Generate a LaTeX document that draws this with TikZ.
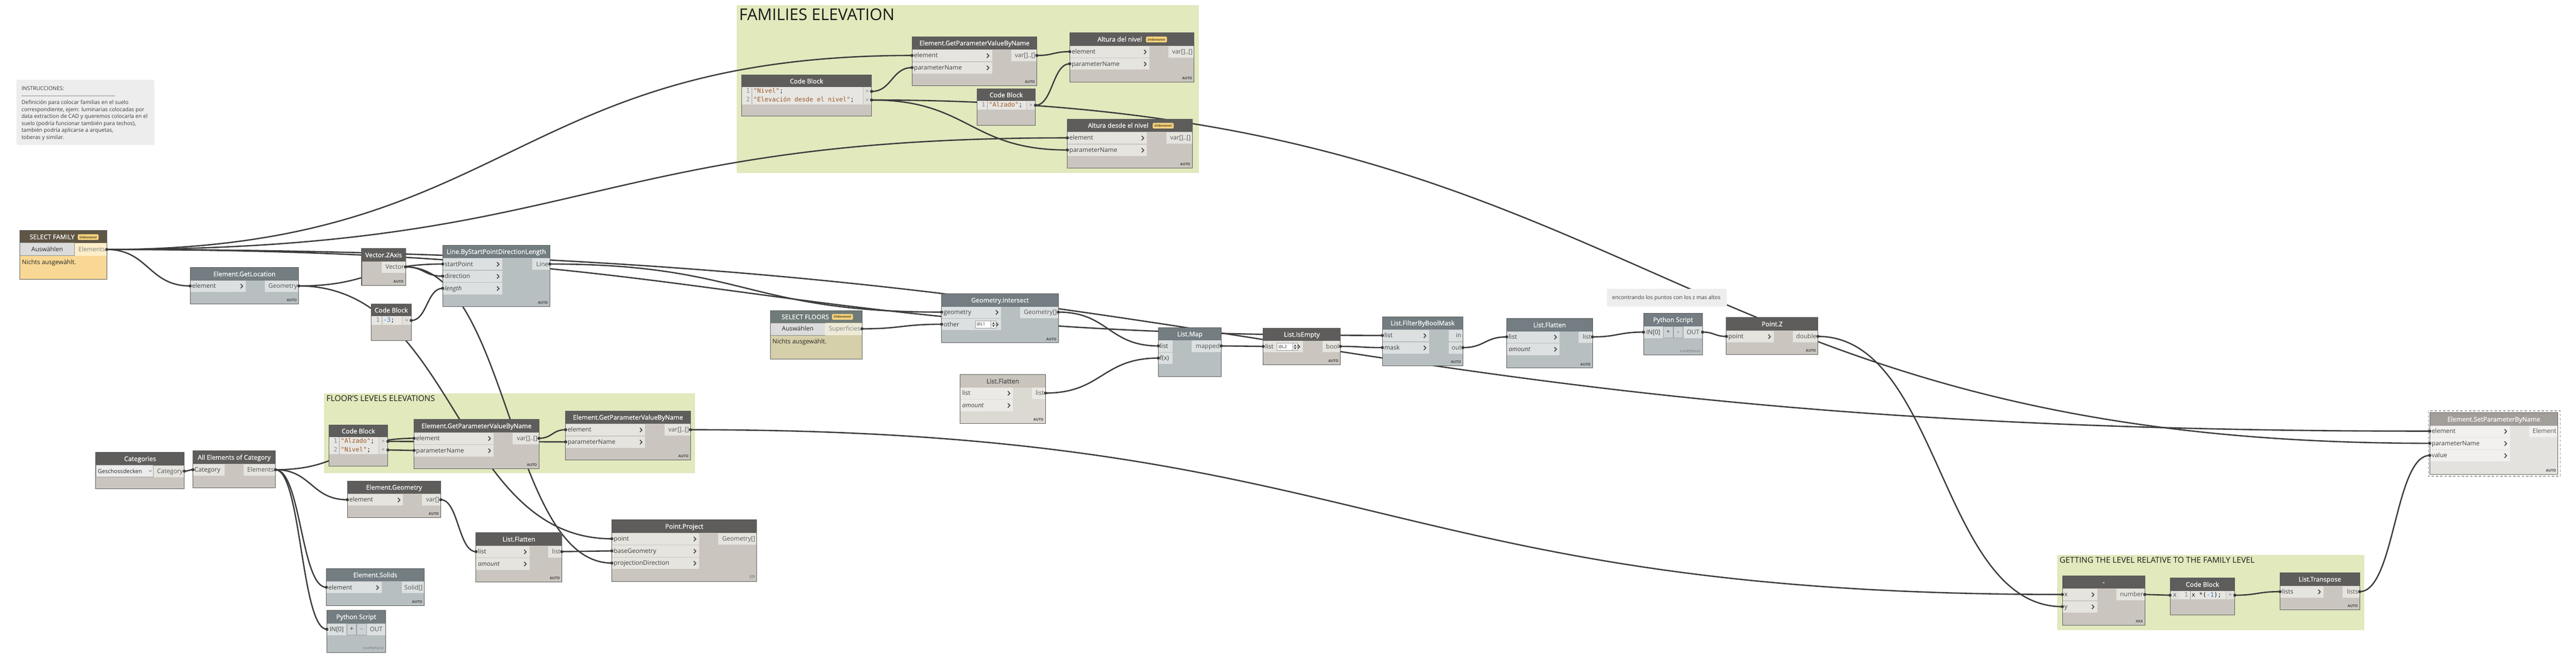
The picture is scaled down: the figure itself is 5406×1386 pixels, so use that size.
\documentclass[tikz,border=0pt]{standalone}
\usepackage{fontspec}
\setmainfont{Open Sans}
\setmonofont{DejaVu Sans Mono}
\newfontfamily\hdrfont{Open Sans}[FakeBold=0.6]
\usetikzlibrary{calc}
\definecolor{grp}{HTML}{E1E9BD}
\definecolor{wirec}{HTML}{3C3C3C}
\definecolor{frm}{HTML}{5A5A5A}
\definecolor{headB}{HTML}{5E5D5B}\definecolor{bodyB}{HTML}{CAC6BF}\definecolor{rowB}{HTML}{E6E4DF}\definecolor{orowB}{HTML}{E6E4DF}\definecolor{htxB}{HTML}{FFFFFF}
\definecolor{headG}{HTML}{737D82}\definecolor{bodyG}{HTML}{B7BFC1}\definecolor{rowG}{HTML}{DCE0E0}\definecolor{orowG}{HTML}{DCE0E0}\definecolor{htxG}{HTML}{FFFFFF}
\definecolor{headL}{HTML}{C9C5BD}\definecolor{bodyL}{HTML}{DCD9D2}\definecolor{rowL}{HTML}{ECEAE6}\definecolor{orowL}{HTML}{ECEAE6}\definecolor{htxL}{HTML}{4A4A4A}
\definecolor{headS}{HTML}{A29E9A}\definecolor{bodyS}{HTML}{E4E2DE}\definecolor{rowS}{HTML}{F1F0EE}\definecolor{orowS}{HTML}{F1F0EE}\definecolor{htxS}{HTML}{FFFFFF}
\definecolor{ptxt}{HTML}{3F3F3F}\definecolor{otxt}{HTML}{555555}\definecolor{lacec}{HTML}{454545}\definecolor{chevc}{HTML}{4A4A4A}
\definecolor{sfhead}{HTML}{5E5545}\definecolor{sfbody}{HTML}{F9D895}\definecolor{sfout}{HTML}{FDEEC8}
\definecolor{sflhead}{HTML}{6F7B78}\definecolor{sflbody}{HTML}{D5CFAA}\definecolor{sflout}{HTML}{EEEAD8}
\definecolor{sfotx}{HTML}{808080}\definecolor{btnc}{HTML}{DCDCDC}\definecolor{btnl}{HTML}{8C8C8C}
\definecolor{badgec}{HTML}{F6D37F}\definecolor{badgetx}{HTML}{5B4A1F}
\definecolor{codebg}{HTML}{E8E6E2}\definecolor{codeout}{HTML}{E2E0DB}\definecolor{codesep}{HTML}{C4C1BA}
\definecolor{cstr}{HTML}{9A5A28}\definecolor{cnum}{HTML}{2F7FD0}\definecolor{codetxt}{HTML}{222222}\definecolor{lnumc}{HTML}{8A8A8A}
\definecolor{cmtbg}{HTML}{EDEDED}\definecolor{cmtx}{HTML}{3A3A3A}
\definecolor{spinc}{HTML}{9A9A9A}\definecolor{pybtn}{HTML}{CDD3D4}\definecolor{pybtnl}{HTML}{9AA3A5}
\definecolor{ddc}{HTML}{ECECEC}\definecolor{ddl}{HTML}{A0A0A0}\definecolor{dashc}{HTML}{9A9A9A}
\tikzset{
  wire/.style={draw=wirec, line width=2.8},
  frame/.style={draw=frm, line width=1.1},
  htext/.style={inner sep=0, font=\hdrfont\fontsize{13.5}{15}\selectfont, text height=12, text depth=2.4},
  ptext/.style={inner sep=0, font=\fontsize{13}{15}\selectfont, text=ptxt, text height=11, text depth=3},
  ctext/.style={inner sep=0, font=\ttfamily\fontsize{13}{15}\selectfont, text=codetxt, text height=10, text depth=3},
  lace/.style={inner sep=0, font=\bfseries\fontsize{7.5}{8}\selectfont, text=lacec, anchor=south east},
  chevst/.style={draw=chevc, line width=1.9},
  gtitle/.style={inner sep=0, font=\fontsize{17}{17}\selectfont, text=black!90, anchor=base west},
  cmt/.style={inner sep=0, font=\fontsize{11.3}{14}\selectfont, text=cmtx, anchor=base west},
  badgest/.style={fill=badgec, rounded corners=2, minimum width=44, minimum height=12, inner sep=0, font=\bfseries\itshape\fontsize{7}{7}\selectfont, text=badgetx},
}
\newcommand\dnode[6]{%
  \fill[body#5] (#1,#2) rectangle ++(#3,#4);
  \fill[head#5] (#1,#2) rectangle ++(#3,27);
  \node[htext, text=htx#5] at ({#1+#3/2},{#2+13.5}) {#6};}
\newcommand\dframe[4]{\draw[frame] (#1,#2) rectangle ++(#3,#4);}
\newcommand\dchev[2]{\draw[chevst] ({#1-2},{#2-4.5}) -- ++(4.2,4.5) -- ++(-4.2,4.5);}
\newcommand\inrow[5]{%
  \fill[row#5] (#1,{#2+1}) rectangle ++(#3,24);
  \node[ptext, anchor=west] at ({#1+4},{#2+13}) {#4};
  \dchev{#1+#3-9}{#2+13}}
\newcommand\inrownc[5]{%
  \fill[row#5] (#1,{#2+1}) rectangle ++(#3,24);
  \node[ptext, anchor=west] at ({#1+3},{#2+13}) {#4};}
\newcommand\outrow[5]{%
  \fill[orow#5] ({#1-#3},{#2+1}) rectangle (#1,{#2+25});
  \node[ptext, text=otxt, anchor=east] at ({#1-3},{#2+13}) {#4};}
\newcommand\lacing[3]{\node[lace] at ({#1-4},{#2-5}) {#3};}
\newcommand\coderow[6]{%
  \fill[codebg] (#1,#2) rectangle (#3,{#2+18});
  \fill[codeout] (#3,#2) rectangle (#4,{#2+18});
  \draw[codesep] (#3,#2) -- (#3,{#2+18});
  \draw[lnumc, densely dotted] ({#1+22},#2) -- ({#1+22},{#2+18});
  \node[ctext, text=lnumc] at ({#1+14},{#2+9}) {#5};
  \node[ctext, anchor=west] at ({#1+25},{#2+9}) {#6};
  \node[inner sep=0, text=otxt, font=\fontsize{10}{10}\selectfont] at ({(#3+#4)/2},{#2+9}) {>};}
\newcommand\spinner[3]{%
  \filldraw[fill=white, draw=spinc, line width=0.8] (#1,#2) rectangle ++(43,15);
  \node[inner sep=0, anchor=west, font=\fontsize{9}{9}\selectfont, text=black!80] at ({#1+2.5},{#2+7.5}) {#3};
  \draw[spinc, line width=0.8] ({#1+33},#2) -- ++(0,15) ({#1+33},{#2+7.5}) -- ++(10,0);
  \fill[black!75] ({#1+35.5},{#2+6}) -- ++(5,0) -- ++(-2.5,-3.8) -- cycle;
  \fill[black!75] ({#1+35.5},{#2+9}) -- ++(5,0) -- ++(-2.5,3.8) -- cycle;}
\newcommand\pyrow[3]{%
  \fill[rowG] (#1,{#2+1}) rectangle ++(41,24);
  \filldraw[fill=pybtn, draw=pybtnl, line width=0.8] ({#1+42},{#2+1}) rectangle ++(20,24);
  \filldraw[fill=pybtn, draw=pybtnl, line width=0.8] ({#1+63},{#2+1}) rectangle ++(20,24);
  \fill[rowG] ({#1+84},{#2+1}) rectangle ({#1+#3},{#2+25});
  \node[ptext] at ({#1+20.5},{#2+13}) {IN[0]};
  \node[ptext] at ({#1+52},{#2+12}) {+};
  \node[ptext] at ({#1+73},{#2+12}) {-};
  \node[ptext, text=otxt] at ({#1+(84+#3)/2},{#2+13}) {OUT};}
\newcommand\wire[3]{\draw[wire] (#1) .. controls ($(#1)+(#3,0)$) and ($(#2)-(#3,0)$) .. (#2);}
\newcommand\dashes{-{}-{}-{}-{}-{}-{}-{}-{}-{}-{}}
\begin{document}
\begin{tikzpicture}[x=1pt,y=-1pt]
\useasboundingbox (0,0) rectangle (5406,1386);
\fill[white] (0,0) rectangle (5406,1386);
% ---------- ports ----------
\coordinate (sf-out) at (224,524);
\coordinate (gloc-in) at (399,600.5); \coordinate (gloc-out) at (627,600.5);
\coordinate (vz-out) at (851,560.5);
\coordinate (line-in1) at (929,554.5); \coordinate (line-in2) at (929,580); \coordinate (line-in3) at (929,605.5); \coordinate (line-out) at (1154,554.5);
\coordinate (cb3-out) at (863,673);
\coordinate (sfl-out) at (1809,690.5);
\coordinate (gint-in1) at (1976,655.5); \coordinate (gint-in2) at (1976,681); \coordinate (gint-out) at (2221,655.5);
\coordinate (lmap-in1) at (2431,726.5); \coordinate (lmap-in2) at (2431,752); \coordinate (lmap-out) at (2563,726.5);
\coordinate (lfl1-out) at (2194,825.5);
\coordinate (lie-in) at (2651,727.5); \coordinate (lie-out) at (2813,727.5);
\coordinate (fbm-in1) at (2901,704.5); \coordinate (fbm-in2) at (2901,730); \coordinate (fbm-out) at (3070,730);
\coordinate (lfl2-in) at (3162,707.5); \coordinate (lfl2-out) at (3342,707.5);
\coordinate (py1-in) at (3449,697.5); \coordinate (py1-out) at (3573,697.5);
\coordinate (pz-in) at (3623,706.5); \coordinate (pz-out) at (3815,706.5);
\coordinate (egt-in1) at (1914,116.5); \coordinate (egt-in2) at (1914,142); \coordinate (egt-out) at (2176,116.5);
\coordinate (adn-in1) at (2245,108.5); \coordinate (adn-in2) at (2245,134);
\coordinate (cb1-out1) at (1829,192); \coordinate (cb1-out2) at (1829,210);
\coordinate (cba-out) at (2173,221);
\coordinate (adl-in1) at (2240,289.5); \coordinate (adl-in2) at (2240,315);
\coordinate (cb2-out1) at (814,927); \coordinate (cb2-out2) at (814,945);
\coordinate (eg1-in1) at (869,920.5); \coordinate (eg1-in2) at (869,946); \coordinate (eg1-out) at (1131,920.5);
\coordinate (eg2-in1) at (1187,902.5); \coordinate (eg2-in2) at (1187,928); \coordinate (eg2-out) at (1449,902.5);
\coordinate (cat-out) at (387,989.5);
\coordinate (aec-in) at (405,986.5); \coordinate (aec-out) at (578,986.5);
\coordinate (egeo-in) at (729,1049.5); \coordinate (egeo-out) at (925,1049.5);
\coordinate (lfl3-in) at (999,1158.5); \coordinate (lfl3-out) at (1179,1158.5);
\coordinate (pp-in1) at (1284,1131.5); \coordinate (pp-in2) at (1284,1157); \coordinate (pp-in3) at (1284,1182.5);
\coordinate (esol-in) at (685,1233.5);
\coordinate (py2-in) at (686,1321.5);
\coordinate (minus-in1) at (4328,1248.5); \coordinate (minus-in2) at (4328,1274); \coordinate (minus-out) at (4501,1248.5);
\coordinate (cbm-in) at (4554,1250); \coordinate (cbm-out) at (4690,1250);
\coordinate (ltr-in) at (4785,1242.5); \coordinate (ltr-out) at (4952,1242.5);
\coordinate (sp-in1) at (5099,905.5); \coordinate (sp-in2) at (5099,931); \coordinate (sp-in3) at (5099,956.5);
% ---------- groups ----------
\fill[grp] (1546,11) rectangle (2516,363);
\node[gtitle, font=\fontsize{34}{34}\selectfont] (g1t) at (1551,43) {FAMILIES ELEVATION};
\fill[grp] (680,826) rectangle (1459,994);
\node[gtitle] (g2t) at (685,843) {FLOOR'S LEVELS ELEVATIONS};
\fill[grp] (4317,1166) rectangle (4962,1323);
\node[gtitle] (g3t) at (4322,1182) {GETTING THE LEVEL RELATIVE TO THE FAMILY LEVEL};
% ---------- comments ----------
\fill[black!6] (37,170) rectangle (324,305);
\fill[cmtbg] (35,168) rectangle (322,303);
\node[cmt] (c1) at (45,190) {INSTRUCCIONES:};
\node[cmt] (c2) at (45,204.5) {\dashes\dashes\dashes\dashes\dashes-{}-{}-{}-{}};
\node[cmt] (c3) at (45,219) {Definición para colocar familias en el suelo};
\node[cmt] (c4) at (45,233.6) {correspondiente, ejem: luminarias colocadas por};
\node[cmt] (c5) at (45,248.2) {data extraction de CAD y queremos colocarla en el};
\node[cmt] (c6) at (45,262.8) {suelo (podría funcionar también para techos),};
\node[cmt] (c7) at (45,277.4) {también podría aplicarse a arquetas,};
\node[cmt] (c8) at (45,292) {toberas y similar.};
% ---------- wires ----------
\wire{sf-out}{egt-in1}{845}
\wire{sf-out}{adl-in1}{1008}
\wire{sf-out}{gloc-in}{87.5}
\wire{sf-out}{sp-in1}{2437.5}
\wire{sf-out}{fbm-in1}{1338.5}
\wire{cb1-out1}{egt-in2}{42.5}
\wire{egt-out}{adn-in1}{34.5}
\wire{cba-out}{adn-in2}{36}
\wire{cb1-out2}{adl-in2}{205.5}
\wire{cb1-out2}{sp-in2}{1635}
\wire{gloc-out}{line-in1}{151}
\wire{vz-out}{line-in2}{39}
\wire{cb3-out}{line-in3}{33}
\wire{gloc-out}{pp-in1}{328.5}
\wire{vz-out}{pp-in3}{216.5}
\wire{line-out}{gint-in1}{411}
\wire{sfl-out}{gint-in2}{83.5}
\wire{gint-out}{lmap-in1}{105}
\wire{lfl1-out}{lmap-in2}{118.5}
\wire{lmap-out}{lie-in}{44}
\wire{lie-out}{fbm-in2}{44}
\wire{fbm-out}{lfl2-in}{46}
\wire{lfl2-out}{py1-in}{53.5}
\wire{py1-out}{pz-in}{25}
\wire{pz-out}{minus-in2}{256.5}
\wire{eg2-out}{minus-in1}{1439.5}
\wire{minus-out}{cbm-in}{26.5}
\wire{cbm-out}{ltr-in}{47.5}
\wire{ltr-out}{sp-in3}{73.5}
\wire{aec-out}{eg1-in1}{145.5}
\wire{cb2-out2}{eg1-in2}{27.5}
\wire{cb2-out1}{eg2-in2}{186.5}
\wire{eg1-out}{eg2-in1}{28}
\wire{cat-out}{aec-in}{9}
\wire{aec-out}{egeo-in}{75.5}
\wire{aec-out}{esol-in}{53.5}
\wire{aec-out}{py2-in}{54}
\wire{egeo-out}{lfl3-in}{37}
\wire{lfl3-out}{pp-in2}{52.5}
% second comment drawn over the wire that passes behind it
\fill[black!6] (3374,609) rectangle (3624,644);
\fill[cmtbg] (3372,607) rectangle (3622,642);
\node[cmt] (c9) at (3383,628.5) {encontrando los puntos con los z mas altos};
% ---------- SELECT FAMILY ----------
\fill[sfbody] (42,484) rectangle (224,587);
\fill[sfhead] (42,484) rectangle (224,510);
\node[htext, text=white, anchor=west] (sf) at (62,497.5) {SELECT FAMILY};
\node[badgest] at (185,498) {Unbenannt};
\filldraw[fill=btnc, draw=btnl, line width=1] (42,510) rectangle (156,537);
\node[ptext, text=black!85] at (99,524) {Auswählen};
\fill[sfout] (156.5,510.5) rectangle (224,537);
\node[ptext, text=sfotx, anchor=east] at (221,524) {Elements};
\node[ptext, text=black!85, anchor=west] at (46,551) {Nichts ausgewählt.};
\dframe{42}{484}{182}{103}
% ---------- Element.GetLocation ----------
\dnode{399}{562}{228}{76}{G}{Element.GetLocation}
\inrow{399}{588}{117}{element}{G}
\outrow{627}{588}{71}{Geometry}{G}
\lacing{627}{638}{AUTO}
\dframe{399}{562}{228}{76}
% ---------- Vector.ZAxis ----------
\dnode{759}{522}{92}{77}{B}{Vector.ZAxis}
\outrow{851}{548}{50}{Vector}{B}
\lacing{851}{599}{AUTO}
\dframe{759}{522}{92}{77}
% ---------- Line ----------
\dnode{929}{515}{225}{129}{G}{Line.ByStartPointDirectionLength}
\inrow{929}{542}{125}{startPoint}{G}
\inrow{929}{567.5}{125}{direction}{G}
\inrow{929}{593}{125}{\textit{length}}{G}
\outrow{1154}{542}{37}{Line}{G}
\lacing{1154}{644}{AUTO}
\dframe{929}{515}{225}{129}
% ---------- Code Block -3 ----------
\dnode{779}{638}{84}{77}{B}{Code Block}
\coderow{779}{664}{844}{863}{1}{\textcolor{cnum}{-3};}
\dframe{779}{638}{84}{77}
% ---------- SELECT FLOORS ----------
\fill[sflbody] (1617,652) rectangle (1809,754);
\fill[sflhead] (1617,652) rectangle (1809,678);
\node[htext, text=white, anchor=west] (sfl) at (1640,665.5) {SELECT FLOORS};
\node[badgest] at (1768,665.5) {Unbenannt};
\filldraw[fill=btnc, draw=btnl, line width=1] (1617,678) rectangle (1731,704);
\node[ptext, text=black!85] at (1674,691) {Auswählen};
\fill[sflout] (1731.5,678.5) rectangle (1809,704);
\node[ptext, text=sfotx, anchor=east] at (1806,691) {Superficies};
\node[ptext, text=black!85, anchor=west] at (1621,718) {Nichts ausgewählt.};
\dframe{1617}{652}{192}{102}
% ---------- Geometry.Intersect ----------
\dnode{1976}{617}{245}{103}{G}{Geometry.Intersect}
\inrow{1976}{643}{125}{geometry}{G}
\inrow{1976}{668.5}{125}{other}{G}
\spinner{2047}{674}{@L1}
\outrow{2221}{643}{80}{Geometry[]}{G}
\lacing{2221}{720}{AUTO}
\dframe{1976}{617}{245}{103}
% ---------- List.Map ----------
\dnode{2431}{688}{132}{103}{G}{List.Map}
\inrownc{2431}{714}{30}{list}{G}
\inrownc{2431}{739.5}{30}{f(x)}{G}
\outrow{2563}{714}{62}{mapped}{G}
\dframe{2431}{688}{132}{103}
% ---------- List.Flatten (light) ----------
\dnode{2015}{787}{179}{102}{L}{List.Flatten}
\inrow{2015}{813}{111}{list}{L}
\inrow{2015}{838.5}{111}{\textit{amount}}{L}
\outrow{2194}{813}{28}{list}{L}
\lacing{2194}{889}{AUTO}
\dframe{2015}{787}{179}{102}
% ---------- List.IsEmpty ----------
\dnode{2651}{689}{162}{77}{B}{List.IsEmpty}
\inrow{2651}{715}{83}{list}{B}
\spinner{2680}{721}{@L2}
\outrow{2813}{715}{38}{bool}{B}
\lacing{2813}{766}{AUTO}
\dframe{2651}{689}{162}{77}
% ---------- FilterByBoolMask ----------
\dnode{2901}{665}{169}{103}{G}{List.FilterByBoolMask}
\inrow{2901}{692}{98}{list}{G}
\inrow{2901}{717.5}{98}{mask}{G}
\outrow{3070}{692}{30}{in}{G}
\outrow{3070}{717.5}{30}{out}{G}
\lacing{3070}{768}{AUTO}
\dframe{2901}{665}{169}{103}
% ---------- List.Flatten (right) ----------
\dnode{3162}{669}{180}{104}{G}{List.Flatten}
\inrow{3162}{695}{111}{list}{G}
\inrow{3162}{720.5}{111}{\textit{amount}}{G}
\outrow{3342}{695}{29}{list}{G}
\lacing{3342}{773}{AUTO}
\dframe{3162}{669}{180}{104}
% ---------- Python Script (top) ----------
\dnode{3449}{658}{124}{88}{G}{Python Script}
\pyrow{3449}{685}{124}
\node[inner sep=0, anchor=south east, font=\fontsize{7.5}{8}\selectfont, text=black!55] at (3569,742) {IronPython2};
\dframe{3449}{658}{124}{88}
% ---------- Point.Z ----------
\dnode{3623}{667}{192}{77}{B}{Point.Z}
\inrow{3623}{694}{99}{point}{B}
\outrow{3815}{694}{53}{double}{B}
\lacing{3815}{744}{AUTO}
\dframe{3623}{667}{192}{77}
% ---------- Families group nodes ----------
\dnode{1914}{77}{262}{103}{B}{Element.GetParameterValueByName}
\inrow{1914}{104}{168}{element}{B}
\inrow{1914}{129.5}{168}{parameterName}{B}
\outrow{2176}{104}{54}{var[]..[]}{B}
\lacing{2176}{180}{AUTO}
\dframe{1914}{77}{262}{103}
\dnode{2245}{69}{261}{103}{B}{}
\node[htext, text=white, anchor=west] (adn) at (2303,82.5) {Altura del nivel};
\node[badgest] at (2427,83) {Unbenannt};
\inrow{2245}{96}{167}{element}{B}
\inrow{2245}{121.5}{167}{parameterName}{B}
\outrow{2506}{96}{54}{var[]..[]}{B}
\lacing{2506}{172}{AUTO}
\dframe{2245}{69}{261}{103}
\dnode{1556}{157}{273}{87}{B}{Code Block}
\coderow{1556}{183}{1811}{1829}{1}{\textcolor{cstr}{"Nivel"};}
\coderow{1556}{201}{1811}{1829}{2}{\textcolor{cstr}{"Elevación desde el nivel"};}
\dframe{1556}{157}{273}{87}
\dnode{2050}{186}{123}{77}{B}{Code Block}
\coderow{2050}{212}{2154}{2173}{1}{\textcolor{cstr}{"Alzado"};}
\dframe{2050}{186}{123}{77}
\dnode{2240}{250}{262}{103}{B}{}
\node[htext, text=white, anchor=west] (adl) at (2283,263.5) {Altura desde el nivel};
\node[badgest] at (2441,264) {Unbenannt};
\inrow{2240}{277}{167}{element}{B}
\inrow{2240}{302.5}{167}{parameterName}{B}
\outrow{2502}{277}{54}{var[]..[]}{B}
\lacing{2502}{353}{AUTO}
\dframe{2240}{250}{262}{103}
% ---------- Floors group nodes ----------
\dnode{690}{892}{124}{87}{B}{Code Block}
\coderow{690}{918}{795}{814}{1}{\textcolor{cstr}{"Alzado"};}
\coderow{690}{936}{795}{814}{2}{\textcolor{cstr}{"Nivel"};}
\dframe{690}{892}{124}{87}
\dnode{869}{881}{262}{103}{B}{Element.GetParameterValueByName}
\inrow{869}{908}{167}{element}{B}
\inrow{869}{933.5}{167}{parameterName}{B}
\outrow{1131}{908}{55}{var[]..[]}{B}
\lacing{1131}{984}{AUTO}
\dframe{869}{881}{262}{103}
\dnode{1187}{863}{262}{103}{B}{Element.GetParameterValueByName}
\inrow{1187}{890}{167}{element}{B}
\inrow{1187}{915.5}{167}{parameterName}{B}
\outrow{1449}{890}{54}{var[]..[]}{B}
\lacing{1449}{966}{AUTO}
\dframe{1187}{863}{262}{103}
% ---------- Bottom left ----------
\dnode{201}{950}{186}{77}{B}{Categories}
\filldraw[fill=ddc, draw=ddl, line width=0.8] (201,977) rectangle (322,1002);
\node[ptext, text=black!85, font=\fontsize{12}{14}\selectfont, anchor=west] at (205,990) {Geschossdecken};
\draw[black!60, line width=0.8] (312.5,987.5) -- (315.5,990.5) -- (318.5,987.5);
\outrow{387}{977}{65}{Category}{B}
\dframe{201}{950}{186}{77}
\dnode{405}{947}{173}{77}{B}{All Elements of Category}
\inrownc{405}{974}{66}{Category}{B}
\outrow{578}{974}{67}{Elements}{B}
\dframe{405}{947}{173}{77}
\dnode{729}{1010}{196}{77}{B}{Element.Geometry}
\inrow{729}{1037}{117}{element}{B}
\outrow{925}{1037}{40}{var[]}{B}
\lacing{925}{1087}{AUTO}
\dframe{729}{1010}{196}{77}
\dnode{999}{1119}{180}{103}{B}{List.Flatten}
\inrow{999}{1146}{112}{list}{B}
\inrow{999}{1171.5}{112}{\textit{amount}}{B}
\outrow{1179}{1146}{29}{list}{B}
\lacing{1179}{1222}{AUTO}
\dframe{999}{1119}{180}{103}
\dnode{1284}{1092}{304}{129}{B}{Point.Project}
\inrow{1284}{1119}{183}{point}{B}
\inrow{1284}{1144.5}{183}{baseGeometry}{B}
\inrow{1284}{1170}{183}{projectionDirection}{B}
\outrow{1588}{1119}{81}{Geometry[]}{B}
\lacing{1588}{1221}{||\textbackslash}
\dframe{1284}{1092}{304}{129}
\dnode{685}{1194}{205}{78}{G}{Element.Solids}
\inrow{685}{1221}{116}{element}{G}
\outrow{890}{1221}{47}{Solid[]}{G}
\lacing{890}{1272}{AUTO}
\dframe{685}{1194}{205}{78}
\dnode{686}{1282}{123}{88}{G}{Python Script}
\pyrow{686}{1309}{123}
\node[inner sep=0, anchor=south east, font=\fontsize{7.5}{8}\selectfont, text=black!55] at (805,1366) {IronPython2};
\dframe{686}{1282}{123}{88}
% ---------- Bottom right group ----------
\dnode{4328}{1209}{173}{104}{B}{-}
\inrow{4328}{1236}{73}{x}{B}
\inrow{4328}{1261.5}{73}{y}{B}
\outrow{4501}{1236}{60}{number}{B}
\lacing{4501}{1313}{XXX}
\dframe{4328}{1209}{173}{104}
\dnode{4554}{1214}{136}{77}{B}{Code Block}
\fill[codeout] (4554,1241) rectangle (4574,1259);
\node[ctext, text=otxt] at (4564,1250) {x};
\coderow{4574}{1241}{4671}{4690}{1}{x *(\textcolor{cnum}{-1});}
\dframe{4554}{1214}{136}{77}
\dnode{4785}{1203}{167}{78}{B}{List.Transpose}
\inrow{4785}{1230}{91}{lists}{B}
\outrow{4952}{1230}{36}{lists}{B}
\lacing{4952}{1281}{AUTO}
\dframe{4785}{1203}{167}{78}
% ---------- SetParameterByName ----------
\draw[dashc, line width=1.8, dash pattern=on 5 off 4] (5096,863) rectangle (5373,1000);
\dnode{5099}{867}{269}{129}{S}{Element.SetParameterByName}
\inrow{5099}{893}{168}{element}{S}
\inrow{5099}{918.5}{168}{parameterName}{S}
\inrow{5099}{944}{168}{value}{S}
\outrow{5368}{893}{61}{Element}{S}
\lacing{5368}{996}{AUTO}
\dframe{5099}{867}{269}{129}
% ---------- port nubs ----------
\foreach \c in {sf-out,egt-in1,egt-in2,egt-out,adn-in1,adn-in2,cb1-out1,cb1-out2,cba-out,adl-in1,adl-in2,gloc-in,gloc-out,vz-out,line-in1,line-in2,line-in3,line-out,cb3-out,sfl-out,gint-in1,gint-in2,gint-out,lmap-in1,lmap-in2,lmap-out,lfl1-out,lie-in,lie-out,fbm-in1,fbm-in2,fbm-out,lfl2-in,lfl2-out,py1-in,py1-out,pz-in,pz-out,cb2-out1,cb2-out2,eg1-in1,eg1-in2,eg1-out,eg2-in1,eg2-in2,eg2-out,cat-out,aec-in,aec-out,egeo-in,egeo-out,lfl3-in,lfl3-out,pp-in1,pp-in2,pp-in3,esol-in,py2-in,minus-in1,minus-in2,minus-out,cbm-in,cbm-out,ltr-in,ltr-out,sp-in1,sp-in2,sp-in3}
  {\fill[wirec] (\c) circle (3.3);}
\end{tikzpicture}
\end{document}
